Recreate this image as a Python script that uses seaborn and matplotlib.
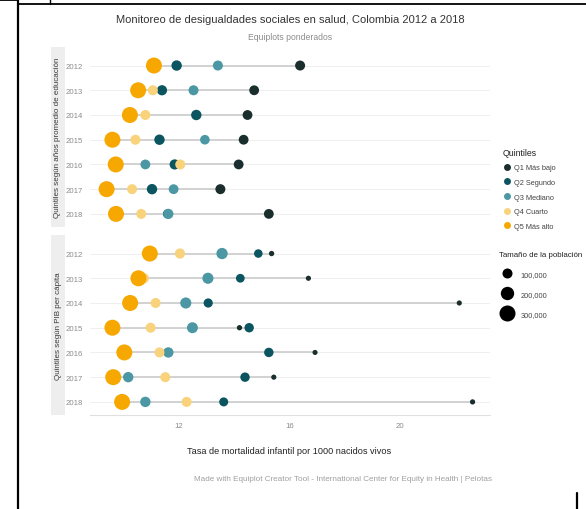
import numpy as np
import pandas as pd
import seaborn as sns
import matplotlib.pyplot as plt
from matplotlib.lines import Line2D
from matplotlib.patches import Rectangle

# datos
years = ["2012", "2013", "2014", "2015", "2016", "2017", "2018"]
quintiles = ["Q1 Más bajo", "Q2 Segundo", "Q3 Mediano", "Q4 Cuarto", "Q5 Más alto"]
colors = ["#1a2f2d", "#0b5560", "#4b97a3", "#f9d27c", "#f7a800"]
panels = ["Quintiles según años promedio de educación", "Quintiles según PIB per cápita"]

# tasa de mortalidad infantil, educacion
edu_q1 = [16.39, 14.73, 14.49, 14.35, 14.17, 13.51, 15.26]
edu_q2 = [11.93, 11.40, 12.64, 11.31, 11.86, 11.04, 11.60]
edu_q3 = [13.42, 12.54, 10.30, 12.95, 10.80, 11.82, 11.63]
edu_q4 = [11.15, 11.07, 10.80, 10.44, 12.06, 10.32, 10.65]
edu_q5 = [11.11, 10.54, 10.24, 9.61, 9.73, 9.40, 9.74]

# tasa de mortalidad infantil, PIB per capita
pib_q1 = [15.36, 16.69, 22.14, 14.20, 16.93, 15.44, 22.62]
pib_q2 = [14.88, 14.23, 13.07, 14.55, 15.26, 14.40, 13.63]
pib_q3 = [13.57, 13.06, 12.26, 12.50, 11.63, 10.18, 10.80]
pib_q4 = [12.05, 10.75, 11.17, 10.99, 11.31, 11.52, 12.29]
pib_q5 = [10.96, 10.55, 10.25, 9.61, 10.04, 9.64, 9.96]

# tamaño de la poblacion (nacidos vivos)
edu_pop_q1 = [100000, 95000, 95000, 95000, 95000, 100000, 95000]
edu_pop_q2 = [110000, 105000, 110000, 110000, 105000, 110000, 80000]
edu_pop_q3 = [100000, 100000, 100000, 90000, 95000, 95000, 105000]
edu_pop_q4 = [100000, 100000, 100000, 100000, 100000, 100000, 100000]
edu_pop_q5 = [360000, 350000, 350000, 340000, 330000, 350000, 340000]

pib_pop_q1 = [8000, 6000, 6000, 8000, 5000, 6000, 7000]
pib_pop_q2 = [65000, 70000, 80000, 85000, 85000, 85000, 75000]
pib_pop_q3 = [135000, 130000, 130000, 125000, 110000, 110000, 110000]
pib_pop_q4 = [105000, 100000, 100000, 100000, 100000, 100000, 100000]
pib_pop_q5 = [380000, 370000, 370000, 380000, 370000, 380000, 370000]

size_ticks = [100000, 200000, 300000]
size_labels = ["100,000", "200,000", "300,000"]

rows = []
for panel, rates, pops in [
    (panels[0], [edu_q1, edu_q2, edu_q3, edu_q4, edu_q5],
     [edu_pop_q1, edu_pop_q2, edu_pop_q3, edu_pop_q4, edu_pop_q5]),
    (panels[1], [pib_q1, pib_q2, pib_q3, pib_q4, pib_q5],
     [pib_pop_q1, pib_pop_q2, pib_pop_q3, pib_pop_q4, pib_pop_q5]),
]:
    for q, r, p in zip(quintiles, rates, pops):
        for i, y in enumerate(years):
            rows.append({"panel": panel, "quintil": q, "anio": y, "pos": i,
                         "tasa": r[i], "poblacion": p[i]})
df = pd.DataFrame(rows)

sns.set_theme(style="white")
plt.rcParams["font.family"] = ["Liberation Sans", "DejaVu Sans"]

palette = dict(zip(quintiles, colors))
sizes = (11.5, 133)
size_norm = (0, 300000)

fig = plt.figure(figsize=(5.86, 5.10), dpi=100)
W, H = 586, 510

def fx(px):
    return px / W

def fy(py):
    return 1 - py / H

panel_px = [(48, 228), (236, 416)]
axes = []
for k, panel in enumerate(panels):
    top, bot = panel_px[k]
    ax = fig.add_axes([fx(90), fy(bot), fx(490) - fx(90), fy(top) - fy(bot)])
    sub = df[df["panel"] == panel]

    for y in range(len(years)):
        ax.axhline(y, color="#ececec", lw=0.6, zorder=0)

    rng = sub.groupby("pos")["tasa"].agg(["min", "max"])
    ax.hlines(rng.index, rng["min"], rng["max"], color="#d2d2d2", lw=1.4, zorder=1)

    sns.scatterplot(data=sub, x="tasa", y="pos", hue="quintil", palette=palette,
                    size="poblacion", sizes=sizes, size_norm=size_norm,
                    linewidth=0, alpha=1, legend=False, ax=ax, zorder=3)

    ax.set_xlim(8.8, 23.25)
    ax.set_ylim(6.53, -0.75)
    ax.set_yticks(range(len(years)), years)
    ax.set_xlabel("")
    ax.set_ylabel("")
    ax.tick_params(axis="y", length=0, labelsize=5.6, labelcolor="#8c8c8c", pad=5)
    for s in ax.spines.values():
        s.set_visible(False)
    if k == 0:
        ax.set_xticks([])
    else:
        ax.set_xticks([12, 16, 20])
        ax.tick_params(axis="x", length=0, labelsize=5.6, labelcolor="#8c8c8c", pad=5)
        ax.spines["bottom"].set_visible(True)
        ax.spines["bottom"].set_color("#e0e0e0")
        ax.spines["bottom"].set_linewidth(0.8)
    axes.append(ax)

    # franja del facet a la izquierda
    fig.patches.append(Rectangle((fx(51), fy(bot)), fx(65) - fx(51), fy(top) - fy(bot),
                                 transform=fig.transFigure, facecolor="#eeeeee",
                                 edgecolor="none", zorder=0))
    fig.text(fx(58), (fy(top) + fy(bot)) / 2, panel, rotation=90, ha="center",
             va="center", fontsize=5.8, color="#3a3a3a")

fig.text(fx(290), fy(20), "Monitoreo de desigualdades sociales en salud, Colombia 2012 a 2018",
         ha="center", va="center", fontsize=8.0, color="#333333")
fig.text(fx(290), fy(38), "Equiplots ponderados", ha="center", va="center",
         fontsize=6.2, color="#8c8c8c")
fig.text(fx(289), fy(452), "Tasa de mortalidad infantil por 1000 nacidos vivos",
         ha="center", va="center", fontsize=6.6, color="#222222")
fig.text(fx(492), fy(480),
         "Made with Equiplot Creator Tool - International Center for Equity in Health | Pelotas",
         ha="right", va="center", fontsize=5.9, color="#a0a0a0")

# leyendas
q_handles = [Line2D([], [], ls="", marker="o", ms=5, mfc=c, mec="none") for c in colors]
leg1 = fig.legend(q_handles, quintiles, loc="upper left", bbox_to_anchor=(fx(496), fy(142)),
                  frameon=False, title="Quintiles", fontsize=5.3, title_fontsize=6.3,
                  handletextpad=0.3, labelspacing=1.02, alignment="left", handlelength=1.2)
for t in leg1.get_texts():
    t.set_color("#444444")
leg1.get_title().set_color("#222222")

s_handles = [Line2D([], [], ls="", marker="o", mfc="black", mec="none",
                    ms=np.sqrt(sizes[0] + (v - size_norm[0]) / (size_norm[1] - size_norm[0])
                               * (sizes[1] - sizes[0])))
             for v in size_ticks]
leg2 = fig.legend(s_handles, size_labels, loc="upper left", bbox_to_anchor=(fx(492), fy(245)),
                  frameon=False, title="Tamaño de la población", fontsize=5.3,
                  title_fontsize=5.7, handletextpad=0.8, labelspacing=1.75,
                  alignment="left", handlelength=2.2)
for t in leg2.get_texts():
    t.set_color("#444444")
leg2.get_title().set_color("#222222")

# bordes de la tabla del documento en la captura
fig.add_artist(Line2D([fx(18), 1], [fy(4.5), fy(4.5)], transform=fig.transFigure,
                      color="black", lw=1.3))
fig.add_artist(Line2D([0, fx(18)], [fy(0.6), fy(0.6)], transform=fig.transFigure,
                      color="black", lw=1.3))
fig.add_artist(Line2D([fx(18), fx(18)], [fy(0), 0], transform=fig.transFigure,
                      color="black", lw=1.6))
fig.add_artist(Line2D([fx(50), fx(50)], [1, fy(4.5)], transform=fig.transFigure,
                      color="black", lw=1.0))
fig.add_artist(Line2D([fx(577), fx(577)], [fy(494), 0], transform=fig.transFigure,
                      color="black", lw=1.6))

fig.savefig("out.png", dpi=100)
